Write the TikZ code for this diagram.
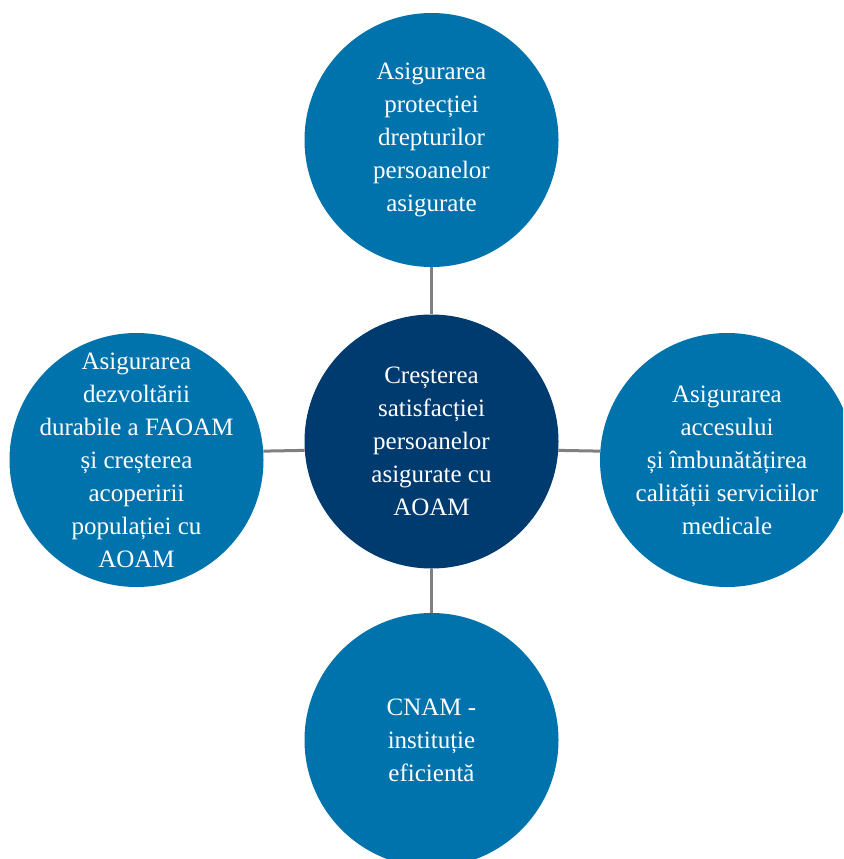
\documentclass[tikz,border=0pt]{standalone}
\usepackage{fontspec}
\setmainfont{Liberation Serif}
\definecolor{outerblue}{RGB}{0,114,172}
\definecolor{innerblue}{RGB}{0,59,112}
\definecolor{linegray}{RGB}{128,128,128}
\tikzset{
  goaltext/.style={text=white, align=center, inner sep=0pt,
    font=\fontsize{25}{33}\selectfont},
  goal/.style={circle, fill=outerblue, minimum size=254pt, inner sep=0pt,
    label={[goaltext]center:#1}},
  core/.style={goal=#1, fill=innerblue},
  link/.style={draw=linegray, line width=3pt}
}
\begin{document}
\begin{tikzpicture}[x=1pt,y=-1pt]
\clip (0,0) rectangle (843,859);
\useasboundingbox (0,0) rectangle (843,859);
\node[core={Creșterea\\satisfacției\\persoanelor\\asigurate cu\\AOAM}] (c) at (431.5,441.5) {};
\node[goal={Asigurarea\\protecției\\drepturilor\\persoanelor\\asigurate}] (t) at (431.5,140) {};
\node[goal={Asigurarea\\dezvoltării\\durabile a FAOAM\\și creșterea\\acoperirii\\populației cu\\AOAM}] (l) at (136.5,460) {};
\node[goal={Asigurarea\\accesului\\și îmbunătățirea\\calității serviciilor\\medicale}] (r) at (727,460) {};
\node[goal={CNAM -\\instituție\\eficientă}] (b) at (431.5,740) {};
\draw[link] (t) -- (c);
\draw[link] (c) -- (b);
\draw[link] (l.4) -- (c.184);
\draw[link] (c.-4) -- (r.176);
\end{tikzpicture}
\end{document}
